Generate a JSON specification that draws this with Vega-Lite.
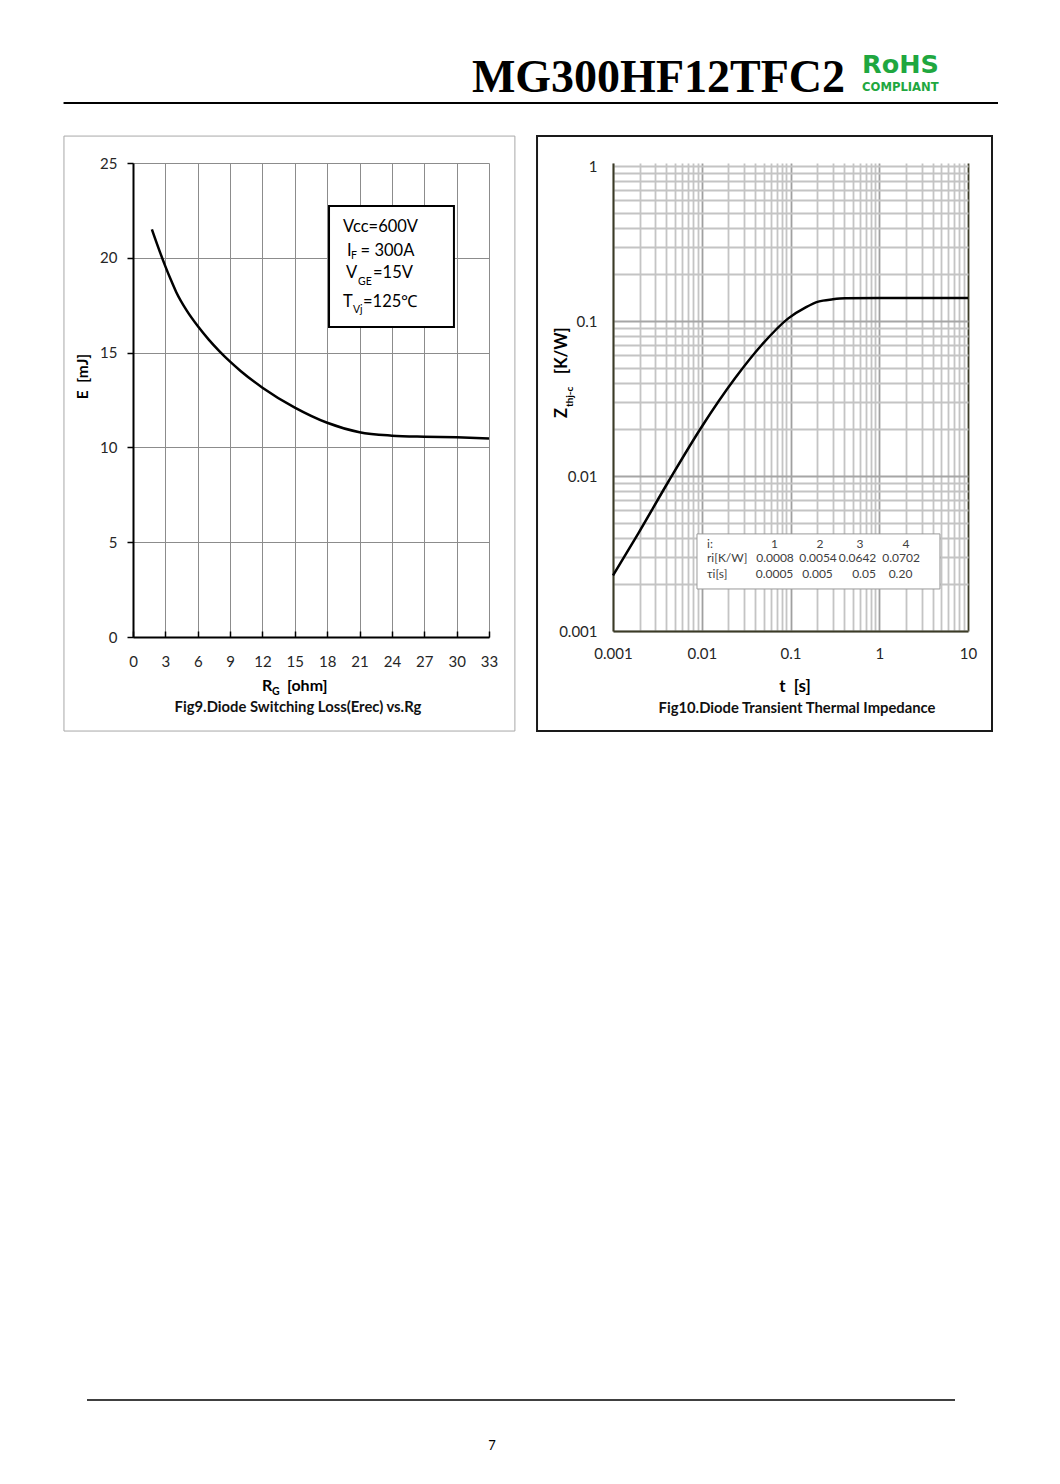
{
  "$schema": "https://vega.github.io/schema/vega-lite/v6.json",
  "background": "white",
  "padding": {"left": 62, "top": 43, "right": 10, "bottom": 10},
  "config": {
    "view": {"stroke": null},
    "font": "Lato",
    "title": {"font": "Lato"},
    "axis": {"labelFont": "Lato", "titleFont": "Lato", "labelFlush": false}
  },
  "concat": [
    {
      "width": 865,
      "height": 60,
      "encoding": {
        "x": {"field": "x", "type": "quantitative", "scale": {"domain": [0, 1], "nice": false, "zero": false}, "axis": null},
        "y": {"field": "y", "type": "quantitative", "scale": {"domain": [0, 1], "nice": false, "zero": false}, "axis": null}
      },
      "layer": [
        {
          "data": {"values": [{"x": -0.0803, "x2": 1, "y": 0}]},
          "mark": {"type": "rule", "color": "black", "strokeWidth": 2},
          "encoding": {"x2": {"field": "x2"}}
        },
        {
          "data": {"values": [{"x": 0.8231, "y": 0.1833, "t": "MG300HF12TFC2"}]},
          "mark": {"type": "text", "font": "Liberation Serif", "fontWeight": "bold", "fontSize": 46, "align": "right", "baseline": "alphabetic", "color": "black"},
          "encoding": {"text": {"field": "t"}}
        },
        {
          "data": {"values": [{"x": 0.8428, "y": 0.5, "t": "RoHS"}]},
          "mark": {"type": "text", "font": "DejaVu Sans", "fontWeight": "bold", "fontSize": 25.5, "align": "left", "baseline": "alphabetic", "color": "#1fa740"},
          "encoding": {"text": {"field": "t"}}
        },
        {
          "data": {"values": [{"x": 0.8428, "y": 0.205, "t": "COMPLIANT"}]},
          "mark": {"type": "text", "font": "DejaVu Sans", "fontWeight": "bold", "fontSize": 11.6, "align": "left", "baseline": "alphabetic", "color": "#1fa740"},
          "encoding": {"text": {"field": "t"}}
        }
      ]
    },
    {
      "concat": [
        {
          "width": 356,
          "height": 474,
          "title": {"text": "Fig9.Diode Switching Loss(Erec) vs.Rg", "orient": "bottom", "fontSize": 14.8, "fontWeight": "bold", "color": "#111111", "offset": -32, "dx": -13},
          "encoding": {
            "x": {
              "field": "x", "type": "quantitative",
              "scale": {"domain": [0, 33], "nice": false, "zero": false},
              "axis": {
                "values": [0, 3, 6, 9, 12, 15, 18, 21, 24, 27, 30, 33],
                "title": null,
                "grid": true, "gridColor": "#8c8c8c", "gridWidth": 1,
                "domainColor": "black", "domainWidth": 2,
                "ticks": true, "tickColor": "black", "tickWidth": 1.5, "tickSize": -6,
                "labelFontSize": 15, "labelColor": "#262626", "labelPadding": 23, "labelFlush": false
              }
            },
            "y": {
              "field": "y", "type": "quantitative",
              "scale": {"domain": [0, 25], "nice": false, "zero": false},
              "axis": {
                "values": [0, 5, 10, 15, 20, 25],
                "title": "E\u00a0\u00a0[mJ]", "titleFontSize": 15.5, "titleFontWeight": "bold", "titleColor": "black", "titleY": 213, "titlePadding": 9,
                "grid": true, "gridColor": "#8c8c8c", "gridWidth": 1,
                "domainColor": "black", "domainWidth": 2,
                "ticks": true, "tickColor": "black", "tickWidth": 1.5, "tickSize": 6,
                "labelFontSize": 15, "labelColor": "#262626", "labelPadding": 10, "labelFlush": false
              }
            }
          },
          "layer": [
            {
              "data": {"values": [{"x": -6.4, "x2": 35.4, "y": -4.96, "y2": 26.42}]},
              "mark": {"type": "rect", "filled": false, "stroke": "#a8a8a8", "strokeWidth": 1},
              "encoding": {"x2": {"field": "x2"}, "y2": {"field": "y2"}}
            },
            {
              "data": {"values": [
                {"x": 1.75, "y": 21.5}, {"x": 2.5, "y": 20.3}, {"x": 3, "y": 19.55}, {"x": 3.5, "y": 18.85},
                {"x": 4, "y": 18.2}, {"x": 5, "y": 17.2}, {"x": 6, "y": 16.4}, {"x": 7, "y": 15.7},
                {"x": 8, "y": 15.08}, {"x": 9, "y": 14.52}, {"x": 10, "y": 14.02}, {"x": 12, "y": 13.15},
                {"x": 15, "y": 12.1}, {"x": 18, "y": 11.3}, {"x": 21, "y": 10.8}, {"x": 24, "y": 10.62},
                {"x": 27, "y": 10.56}, {"x": 30, "y": 10.53}, {"x": 33, "y": 10.47}
              ]},
              "mark": {"type": "line", "color": "black", "strokeWidth": 2.5, "interpolate": "monotone"}
            },
            {
              "data": {"values": [{"x": 18.17, "x2": 29.75, "y": 16.35, "y2": 22.73}]},
              "mark": {"type": "rect", "fill": "white", "stroke": "black", "strokeWidth": 2},
              "encoding": {"x2": {"field": "x2"}, "y2": {"field": "y2"}}
            },
            {
              "data": {"values": [
                {"x": 19.47, "y": 21.36, "t": "Vcc=600V"},
                {"x": 19.84, "y": 20.12, "t": "I"},
                {"x": 21.1, "y": 20.12, "t": "= 300A"},
                {"x": 19.74, "y": 18.93, "t": "V"},
                {"x": 22.25, "y": 18.93, "t": "=15V"},
                {"x": 19.47, "y": 17.4, "t": "T"},
                {"x": 21.32, "y": 17.4, "t": "=125℃"}
              ]},
              "mark": {"type": "text", "align": "left", "baseline": "alphabetic", "fontSize": 16.5, "color": "black"},
              "encoding": {"text": {"field": "t"}}
            },
            {
              "data": {"values": [
                {"x": 20.2, "y": 19.96, "t": "F"},
                {"x": 20.86, "y": 18.57, "t": "GE"},
                {"x": 20.39, "y": 17.1, "t": "Vj"}
              ]},
              "mark": {"type": "text", "align": "left", "baseline": "alphabetic", "fontSize": 10.5, "color": "black"},
              "encoding": {"text": {"field": "t"}}
            },
            {
              "data": {"values": [
                {"x": 11.96, "y": -2.85, "t": "R"},
                {"x": 14.27, "y": -2.85, "t": "[ohm]"}
              ]},
              "mark": {"type": "text", "align": "left", "baseline": "alphabetic", "fontSize": 16, "fontWeight": "bold", "color": "black"},
              "encoding": {"text": {"field": "t"}}
            },
            {
              "data": {"values": [{"x": 12.88, "y": -3.06, "t": "G"}]},
              "mark": {"type": "text", "align": "left", "baseline": "alphabetic", "fontSize": 10.5, "fontWeight": "bold", "color": "black"},
              "encoding": {"text": {"field": "t"}}
            }
          ]
        },
        {
          "width": 355,
          "height": 468,
          "title": {"text": "Fig10.Diode Transient Thermal Impedance", "orient": "bottom", "fontSize": 14.8, "fontWeight": "bold", "color": "#111111", "offset": -31, "dx": 6.5},
          "encoding": {
            "x": {
              "field": "x", "type": "quantitative",
              "scale": {"type": "log", "domain": [0.001, 10], "nice": false},
              "axis": {
                "values": [0.001, 0.002, 0.003, 0.004, 0.005, 0.006, 0.007, 0.008, 0.009, 0.01, 0.02, 0.03, 0.04, 0.05, 0.06, 0.07, 0.08, 0.09, 0.1, 0.2, 0.3, 0.4, 0.5, 0.6, 0.7, 0.8, 0.9, 1, 2, 3, 4, 5, 6, 7, 8, 9, 10],
                "labelExpr": "datum.value == 0.001 || datum.value == 0.01 || datum.value == 0.1 || datum.value == 1 || datum.value == 10 ? toString(datum.value) : ''",
                "labelOverlap": false, "labelFlush": false, "labelFontSize": 15, "labelColor": "#262626", "labelPadding": 15,
                "ticks": false,
                "grid": true,
                "gridColor": {"condition": [{"test": "datum.value == 10", "value": "#3b3b26"}, {"test": "datum.value == 0.01 || datum.value == 0.1 || datum.value == 1", "value": "#a0a0a0"}], "value": "#c4c4c4"},
                "gridWidth": 1.8,
                "domainColor": "#3b3b26", "domainWidth": 2,
                "title": "t\u00a0\u00a0[s]", "titleFontSize": 17, "titleFontWeight": "bold", "titleColor": "black", "titlePadding": 17, "titleX": 181.5
              }
            },
            "y": {
              "field": "y", "type": "quantitative",
              "scale": {"type": "log", "domain": [0.001, 1.0456], "nice": false},
              "axis": {
                "values": [0.001, 0.002, 0.003, 0.004, 0.005, 0.006, 0.007, 0.008, 0.009, 0.01, 0.02, 0.03, 0.04, 0.05, 0.06, 0.07, 0.08, 0.09, 0.1, 0.2, 0.3, 0.4, 0.5, 0.6, 0.7, 0.8, 0.9, 1],
                "labelExpr": "datum.value == 0.001 || datum.value == 0.01 || datum.value == 0.1 || datum.value == 1 ? toString(datum.value) : ''",
                "labelOverlap": false, "labelFlush": false, "labelFontSize": 15, "labelColor": "#262626", "labelPadding": 16,
                "ticks": false,
                "grid": true,
                "gridColor": {"condition": {"test": "datum.value == 0.01 || datum.value == 0.1", "value": "#a6a6a6"}, "value": "#c4c4c4"},
                "gridWidth": 1.8,
                "domainColor": "#3b3b26", "domainWidth": 2,
                "title": null
              }
            }
          },
          "layer": [
            {
              "data": {"values": [{"x": 0.0001393, "x2": 18.64, "y": 0.0002264, "y2": 1.561}]},
              "mark": {"type": "rect", "filled": false, "stroke": "#1a1a1a", "strokeWidth": 2},
              "encoding": {"x2": {"field": "x2"}, "y2": {"field": "y2"}}
            },
            {
              "data": {"values": [{"x": 0.00884, "x2": 4.83, "y": 0.001867, "y2": 0.00423}]},
              "mark": {"type": "rect", "fill": "white", "stroke": "#9a9a9a", "strokeWidth": 1},
              "encoding": {"x2": {"field": "x2"}, "y2": {"field": "y2"}}
            },
            {
              "data": {"values": [
                {"x": 0.001, "y": 0.00228}, {"x": 0.00193, "y": 0.00427}, {"x": 0.0042, "y": 0.00918},
                {"x": 0.01, "y": 0.0208}, {"x": 0.0237, "y": 0.0427}, {"x": 0.0473, "y": 0.07},
                {"x": 0.0944, "y": 0.104}, {"x": 0.15, "y": 0.123}, {"x": 0.2056, "y": 0.1334},
                {"x": 0.3, "y": 0.138}, {"x": 0.411, "y": 0.14}, {"x": 1, "y": 0.1405}, {"x": 10, "y": 0.1406}
              ]},
              "mark": {"type": "line", "color": "black", "strokeWidth": 2.5, "interpolate": "monotone"}
            },
            {
              "data": {"values": [
                {"x": 0.01146, "y": 0.003431, "t": "i:"},
                {"x": 0.01146, "y": 0.0028, "t": "ri[K/W]"},
                {"x": 0.01146, "y": 0.002197, "t": "τi[s]"}
              ]},
              "mark": {"type": "text", "align": "left", "baseline": "alphabetic", "fontSize": 12, "color": "#404040"},
              "encoding": {"text": {"field": "t"}}
            },
            {
              "data": {"values": [
                {"x": 0.06603, "y": 0.003431, "t": "1"},
                {"x": 0.215, "y": 0.003431, "t": "2"},
                {"x": 0.6068, "y": 0.003431, "t": "3"},
                {"x": 2.001, "y": 0.003431, "t": "4"},
                {"x": 0.0669, "y": 0.0028, "t": "0.0008"},
                {"x": 0.2041, "y": 0.0028, "t": "0.0054"},
                {"x": 0.5686, "y": 0.0028, "t": "0.0642"},
                {"x": 1.759, "y": 0.0028, "t": "0.0702"},
                {"x": 0.06603, "y": 0.002197, "t": "0.0005"},
                {"x": 0.2015, "y": 0.002197, "t": "0.005"},
                {"x": 0.6734, "y": 0.002197, "t": "0.05"},
                {"x": 1.736, "y": 0.002197, "t": "0.20"}
              ]},
              "mark": {"type": "text", "align": "center", "baseline": "alphabetic", "fontSize": 12, "color": "#404040"},
              "encoding": {"text": {"field": "t"}}
            },
            {
              "data": {"values": [
                {"x": 0.000303, "y": 0.02366, "t": "Z"},
                {"x": 0.000303, "y": 0.0455, "t": "[K/W]"}
              ]},
              "mark": {"type": "text", "align": "left", "baseline": "alphabetic", "angle": 270, "fontSize": 16.5, "fontWeight": "bold", "color": "black"},
              "encoding": {"text": {"field": "t"}}
            },
            {
              "data": {"values": [{"x": 0.0003541, "y": 0.02786, "t": "thj-c"}]},
              "mark": {"type": "text", "align": "left", "baseline": "alphabetic", "angle": 270, "fontSize": 10, "fontWeight": "bold", "color": "black"},
              "encoding": {"text": {"field": "t"}}
            }
          ]
        }
      ],
      "columns": 2,
      "align": "none",
      "spacing": 20
    },
    {
      "width": 865,
      "height": 697,
      "encoding": {
        "x": {"field": "x", "type": "quantitative", "scale": {"domain": [0, 1], "nice": false, "zero": false}, "axis": null},
        "y": {"field": "y", "type": "quantitative", "scale": {"domain": [0, 1], "nice": false, "zero": false}, "axis": null}
      },
      "layer": [
        {
          "data": {"values": [{"x": -0.0532, "x2": 0.9503, "y": 0.0861}]},
          "mark": {"type": "rule", "color": "black", "strokeWidth": 1.5},
          "encoding": {"x2": {"field": "x2"}}
        },
        {
          "data": {"values": [{"x": 0.415, "y": 0.0201, "t": "7"}]},
          "mark": {"type": "text", "align": "center", "baseline": "middle", "fontSize": 13, "color": "black"},
          "encoding": {"text": {"field": "t"}}
        }
      ]
    }
  ],
  "columns": 1,
  "align": "none",
  "spacing": 31
}
